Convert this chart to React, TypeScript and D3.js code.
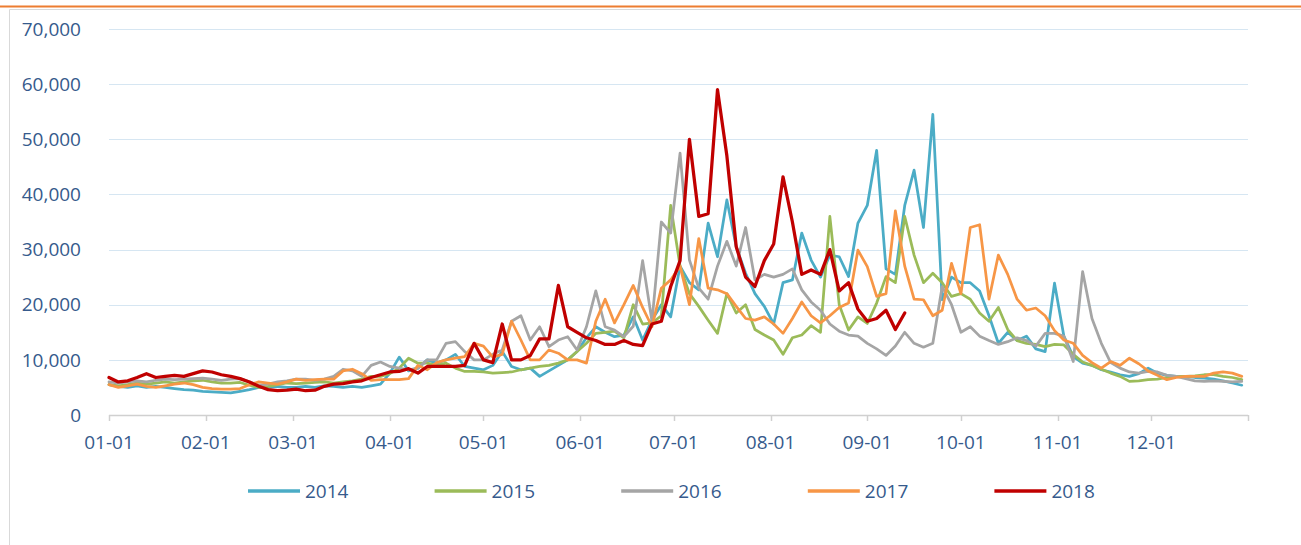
import React, { useEffect, useRef } from 'react';
import * as d3 from 'd3';

// daily series sampled every 3 days (values in thousands)
const STEP_DAYS = 3;
const years = ['2014', '2015', '2016', '2017', '2018'];
const colors = ['#4BACC6', '#9BBB59', '#A5A5A5', '#F79646', '#C00000'];
const monthLabels = ['01-01', '02-01', '03-01', '04-01', '05-01', '06-01', '07-01', '08-01', '09-01', '10-01', '11-01', '12-01'];
const monthStartDays = [0, 31, 59, 90, 120, 151, 181, 212, 243, 273, 304, 334];
const yTicks = [0, 10, 20, 30, 40, 50, 60, 70];

const v2014 = [
  5.5, 5.2, 5.0, 5.3, 5.0, 5.2, 5.0, 4.8, 4.6, 4.5,
  4.3, 4.2, 4.1, 4.0, 4.3, 4.6, 5.0, 5.0, 5.2, 5.0,
  5.0, 5.2, 5.0, 5.3, 5.2, 5.0, 5.2, 5.0, 5.3, 5.6,
  7.6, 10.5, 8.0, 8.5, 10.0, 9.4, 10.0, 11.0, 8.8, 8.5,
  8.2, 9.0, 11.5, 8.8, 8.2, 8.5, 7.0, 8.0, 9.0, 10.0,
  11.5, 14.0, 16.0, 15.0, 14.2, 14.5, 17.8, 13.6, 17.2, 20.0,
  17.8, 27.0, 24.0, 22.7, 34.8, 28.7, 39.0, 30.5, 25.7, 22.0,
  19.7, 16.5, 24.0, 24.5, 33.0, 28.1, 25.0, 29.0, 28.7, 25.1,
  34.8, 38.0, 48.0, 26.5, 25.5, 38.0, 44.4, 34.0, 54.5, 20.9,
  25.0, 24.0, 24.0, 22.5, 18.0, 13.0, 15.0, 13.5, 14.3, 12.0,
  11.5, 23.9, 14.3, 10.6, 9.4, 9.0, 8.2, 7.8, 7.3, 7.0,
  7.5, 8.5, 7.6, 7.2, 7.0, 7.0, 6.8, 6.7, 6.5, 6.2,
  5.8, 5.4,
];

const v2015 = [
  5.5, 5.3, 5.5, 5.8, 5.6, 5.8, 6.0, 5.8, 6.0, 6.2,
  6.3, 6.0, 5.8, 5.8, 5.9, 5.4, 5.0, 5.2, 5.5, 5.8,
  5.7, 5.8, 5.9, 6.0, 5.8, 6.0, 6.2, 6.5, 7.0, 7.0,
  7.5, 8.5, 10.3, 9.4, 9.4, 9.0, 9.4, 8.5, 7.9, 7.9,
  7.8, 7.6, 7.7, 7.8, 8.2, 8.5, 8.8, 9.0, 9.4, 10.0,
  11.5, 13.0, 14.8, 15.0, 15.2, 14.0, 20.0, 16.5, 16.7, 18.0,
  38.0, 27.0, 22.0, 19.7, 17.2, 14.8, 22.0, 18.5, 20.0, 15.5,
  14.5, 13.6, 11.0, 14.0, 14.5, 16.2, 15.0, 36.0, 20.0, 15.4,
  17.8, 16.6, 20.3, 25.1, 24.0, 36.0, 29.0, 24.0, 25.7, 24.0,
  21.5, 22.0, 21.0, 18.5, 17.0, 19.5, 15.5, 13.5, 13.0, 12.8,
  12.4, 12.8, 12.7, 11.0, 9.6, 9.0, 8.3, 7.6, 7.0, 6.1,
  6.2, 6.4, 6.5, 6.8, 7.0, 7.0, 7.1, 7.3, 7.3, 7.0,
  6.8, 6.4,
];

const v2016 = [
  6.0, 5.8, 6.0, 6.2, 6.0, 6.3, 6.5, 6.4, 6.5, 6.6,
  6.7, 6.5, 6.3, 6.5, 6.6, 6.0, 5.4, 5.6, 6.0, 6.2,
  6.5, 6.5, 6.3, 6.5, 7.0, 8.3, 8.0, 7.0, 9.0, 9.6,
  8.8, 8.5, 8.2, 8.5, 10.0, 10.0, 13.0, 13.3, 11.5, 10.0,
  10.0, 11.0, 11.8, 17.0, 18.0, 13.6, 16.0, 12.4, 13.6, 14.2,
  11.8, 16.0, 22.5, 16.0, 15.4, 14.2, 16.1, 28.0, 17.0, 35.0,
  33.0, 47.5, 28.1, 23.0, 21.0, 27.0, 31.5, 27.0, 34.0, 24.5,
  25.5, 25.0, 25.5, 26.5, 22.7, 20.5, 19.0, 16.5, 15.2, 14.5,
  14.3, 13.0, 12.0, 10.8, 12.5, 15.0, 13.0, 12.3, 13.0, 23.3,
  20.0, 15.0, 16.0, 14.3, 13.5, 12.8, 13.3, 14.0, 13.5, 12.5,
  14.8, 14.8, 14.3, 9.7, 26.0, 17.5, 13.0, 9.5, 8.5, 7.8,
  7.6, 7.9, 7.8, 7.2, 7.0, 6.6, 6.2, 6.1, 6.2, 6.1,
  6.0, 6.1,
];

const v2017 = [
  5.5, 5.0, 5.3, 5.6, 5.2, 5.0, 5.3, 5.6, 5.8, 5.5,
  5.0, 4.8, 4.7, 4.7, 4.8, 5.5, 6.0, 5.8, 5.6, 6.0,
  6.5, 6.3, 6.4, 6.5, 6.5, 8.0, 8.3, 7.5, 6.3, 6.4,
  6.4, 6.4, 6.6, 9.0, 8.2, 9.5, 10.0, 10.3, 10.6, 13.0,
  12.5, 10.5, 11.0, 17.0, 13.6, 10.0, 10.0, 11.8, 11.2, 10.0,
  10.0, 9.4, 17.0, 21.0, 16.7, 20.0, 23.5, 19.5, 16.0, 23.0,
  24.5, 27.0, 20.0, 32.0, 23.0, 22.7, 22.0, 19.7, 17.5, 17.2,
  17.8, 16.5, 14.8, 17.5, 20.5, 18.0, 16.7, 18.0, 19.5, 20.3,
  29.9, 26.9, 21.5, 22.0, 37.0, 27.0, 21.0, 20.9, 18.0, 19.0,
  27.5, 22.0, 34.0, 34.5, 21.0, 29.0, 25.5, 21.0, 19.0, 19.4,
  18.0, 15.3, 13.6, 13.0, 10.8, 9.5, 8.5, 9.7, 9.0, 10.3,
  9.3, 8.0, 7.2, 6.4, 6.8, 7.0, 7.0, 7.0, 7.6, 7.8,
  7.6, 7.0,
];

const v2018 = [
  6.8, 6.0, 6.2, 6.8, 7.5, 6.8, 7.0, 7.2, 7.0, 7.5,
  8.0, 7.8, 7.3, 7.0, 6.6, 6.0, 5.2, 4.6, 4.4, 4.5,
  4.7, 4.4, 4.5, 5.2, 5.6, 5.7, 6.0, 6.2, 6.8, 7.3,
  7.8, 7.9, 8.4, 7.6, 8.8, 8.8, 8.8, 8.8, 9.0, 13.0,
  10.0, 9.5, 16.5, 10.0, 10.0, 10.8, 13.8, 13.8, 23.5, 16.0,
  15.0, 14.0, 13.5, 12.8, 12.8, 13.5, 12.8, 12.6, 16.5, 17.0,
  23.3, 28.0, 50.0, 36.0, 36.5, 59.0, 47.0, 30.5, 25.0, 23.3,
  28.0, 31.0, 43.2, 35.0, 25.5, 26.3, 25.5, 30.0, 22.5, 24.0,
  19.2, 17.0, 17.5, 19.0, 15.5, 18.5,
];

const series = [v2014, v2015, v2016, v2017, v2018];

const W = 1301;
const H = 545;
const TEXT = '#365A8C';
const FONT = '"Open Sans", sans-serif';

const App = () => {
  const svgRef = useRef(null);

  useEffect(() => {
    const svg = d3.select(svgRef.current);
    svg.selectAll('*').remove();

    const x = d3.scaleLinear().domain([0, 365]).range([109, 1248]);
    const y = d3.scaleLinear().domain([0, 70]).range([415, 29]);

    // frame
    svg.append('line').attr('x1', 0).attr('x2', W).attr('y1', 6.5).attr('y2', 6.5)
      .attr('stroke', '#ED7D31').attr('stroke-width', 2);
    svg.append('line').attr('x1', 9.5).attr('x2', W).attr('y1', 9.5).attr('y2', 9.5)
      .attr('stroke', '#D9D9D9');
    svg.append('line').attr('x1', 9.5).attr('x2', 9.5).attr('y1', 9.5).attr('y2', H)
      .attr('stroke', '#D9D9D9');

    // gridlines
    svg.append('g').selectAll('line').data(yTicks.filter(t => t > 0)).enter().append('line')
      .attr('x1', x(0)).attr('x2', x(365))
      .attr('y1', d => Math.round(y(d)) + 0.5).attr('y2', d => Math.round(y(d)) + 0.5)
      .attr('stroke', '#D6E6F2').attr('stroke-width', 1);

    // y labels
    svg.append('g').selectAll('text').data(yTicks).enter().append('text')
      .attr('x', 81).attr('y', d => y(d)).attr('dy', '0.35em')
      .attr('text-anchor', 'end').attr('fill', TEXT)
      .style('font-family', FONT).style('font-size', '19px')
      .text(d => d3.format(',')(d * 1000));

    // x axis
    const ax = svg.append('g');
    ax.append('line').attr('x1', x(0)).attr('x2', x(365)).attr('y1', 415.5).attr('y2', 415.5)
      .attr('stroke', '#D0D0D0').attr('stroke-width', 1.5);
    ax.selectAll('line.tick').data([...monthStartDays, 365]).enter().append('line')
      .attr('class', 'tick')
      .attr('x1', d => Math.round(x(d)) + 0.5).attr('x2', d => Math.round(x(d)) + 0.5)
      .attr('y1', 415).attr('y2', 421)
      .attr('stroke', '#D0D0D0').attr('stroke-width', 1.5);
    ax.selectAll('text').data(monthStartDays).enter().append('text')
      .attr('x', d => x(d)).attr('y', 442).attr('dy', '0.35em')
      .attr('text-anchor', 'middle').attr('fill', TEXT)
      .style('font-family', FONT).style('font-size', '19px')
      .text((d, i) => monthLabels[i]);

    // lines
    const line = d3.line<number>()
      .x((d, i) => x(i * STEP_DAYS))
      .y(d => y(d));
    series.forEach((vals, k) => {
      svg.append('path')
        .datum(vals)
        .attr('d', line)
        .attr('fill', 'none')
        .attr('stroke', colors[k])
        .attr('stroke-width', k === 4 ? 3.25 : 2.75)
        .attr('stroke-linejoin', 'round')
        .attr('stroke-linecap', 'round');
    });

    // legend
    const lg = svg.append('g');
    years.forEach((yr, k) => {
      const lx = 248 + k * 186.6;
      lg.append('line').attr('x1', lx).attr('x2', lx + 52).attr('y1', 491).attr('y2', 491)
        .attr('stroke', colors[k]).attr('stroke-width', 3.5);
      lg.append('text').attr('x', lx + 57).attr('y', 491).attr('dy', '0.35em')
        .attr('fill', TEXT)
        .style('font-family', FONT).style('font-size', '19px')
        .text(yr);
    });
  }, []);

  return (
    <svg ref={svgRef} width={W} height={H}
      style={{ position: 'absolute', left: 0, top: 0, background: '#fff' }} />
  );
};

export default App;
